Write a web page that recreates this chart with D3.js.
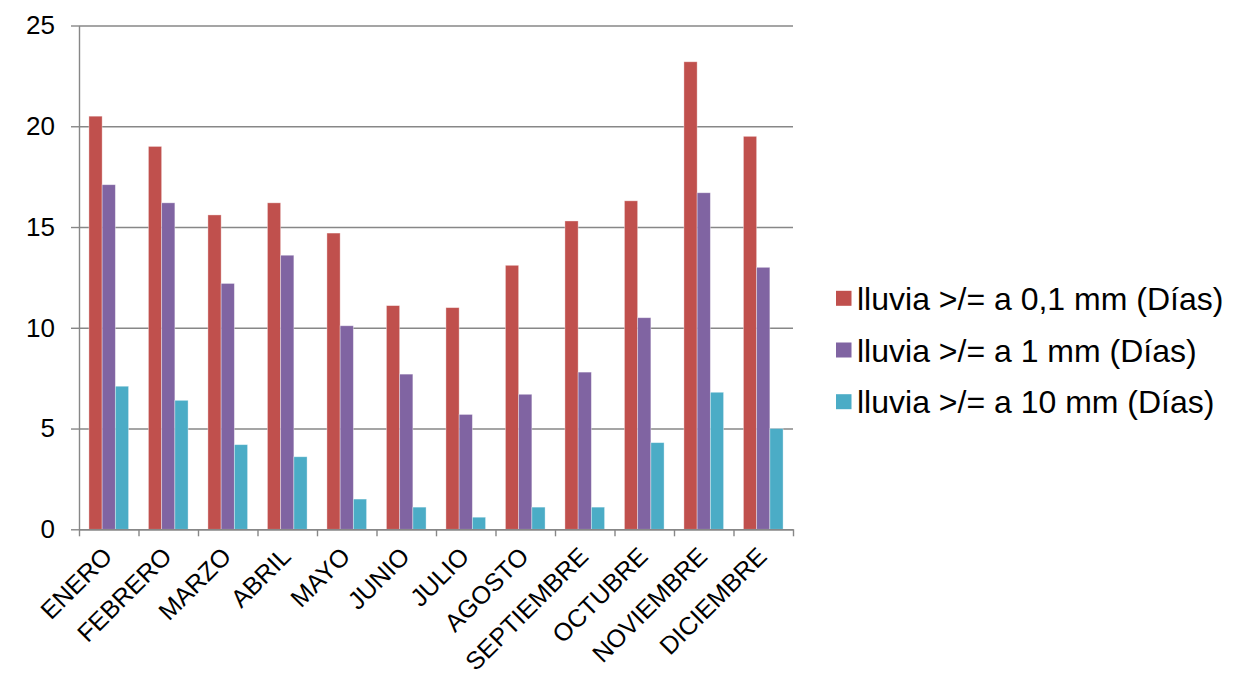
<!DOCTYPE html>
<html>
<head>
<meta charset="utf-8">
<script src="https://cdn.jsdelivr.net/npm/d3@7"></script>
<style>
  html, body { margin: 0; padding: 0; background: #fff; }
  svg { display: block; font-family: "Liberation Sans", Arial, sans-serif; }
</style>
</head>
<body>
<svg id="chart" width="1255" height="680"></svg>
<script>
// Monthly rain days by threshold
const months = ["ENERO", "FEBRERO", "MARZO", "ABRIL", "MAYO", "JUNIO", "JULIO",
                "AGOSTO", "SEPTIEMBRE", "OCTUBRE", "NOVIEMBRE", "DICIEMBRE"];
const seriesNames = ["lluvia >/= a 0,1 mm (Días)", "lluvia >/= a 1 mm (Días)", "lluvia >/= a 10 mm (Días)"];
const rain01 = [20.5, 19.0, 15.6, 16.2, 14.7, 11.1, 11.0, 13.1, 15.3, 16.3, 23.2, 19.5];
const rain1  = [17.1, 16.2, 12.2, 13.6, 10.1, 7.7, 5.7, 6.7, 7.8, 10.5, 16.7, 13.0];
const rain10 = [7.1, 6.4, 4.2, 3.6, 1.5, 1.1, 0.6, 1.1, 1.1, 4.3, 6.8, 5.0];
const yTicks = [0, 5, 10, 15, 20, 25];
const colors = ["#C0504D", "#8064A2", "#4BACC6"];

const seriesValues = [rain01, rain1, rain10];
const rows = months.map((m, i) => ({ month: m, values: seriesValues.map(s => s[i]) }));

const svg = d3.select("#chart");
const plotLeft = 79, plotRight = 793, plotTop = 25.5, plotBottom = 529.3;
const gridColor = "#878787";

const x = d3.scaleBand().domain(months).range([plotLeft, plotRight])
  .paddingInner(1 / 3).paddingOuter(1 / 6);
const xs = d3.scaleBand().domain(d3.range(seriesNames.length)).range([0, x.bandwidth()]);
const xEdges = d3.scaleLinear().domain([0, months.length]).range([plotLeft, plotRight]);
const y = d3.scaleLinear().domain([0, 25]).range([plotBottom, plotTop]);

// horizontal gridlines
svg.append("g")
  .attr("transform", `translate(${plotLeft},0)`)
  .call(d3.axisLeft(y).tickValues(yTicks).tickSize(-(plotRight - plotLeft)).tickFormat(""))
  .call(g => g.select(".domain").remove())
  .call(g => g.selectAll(".tick line").attr("stroke", gridColor).attr("stroke-width", 1.4));

// bars
const groups = svg.append("g").selectAll("g").data(rows).join("g")
  .attr("transform", d => `translate(${x(d.month)},0)`);
groups.selectAll("rect").data(d => d.values.map((v, k) => ({ v, k }))).join("rect")
  .attr("x", d => xs(d.k))
  .attr("width", xs.bandwidth())
  .attr("y", d => y(d.v))
  .attr("height", d => y(0) - y(d.v))
  .attr("fill", d => colors[d.k])
  .attr("stroke", "rgba(255,255,255,0.45)")
  .attr("stroke-width", 0.8);

// y axis
svg.append("g")
  .attr("transform", `translate(${plotLeft},0)`)
  .call(d3.axisLeft(y).tickValues(yTicks).tickSize(8).tickPadding(16).tickSizeOuter(0))
  .call(g => g.select(".domain").attr("stroke", gridColor).attr("stroke-width", 1.4))
  .call(g => g.selectAll(".tick line").attr("stroke", gridColor).attr("stroke-width", 1.4))
  .call(g => g.selectAll(".tick text")
    .attr("fill", "#000").attr("font-size", 26)
    .attr("font-family", "'Liberation Sans', Arial, sans-serif"));

// x axis with boundary ticks
svg.append("g")
  .attr("transform", `translate(0,${plotBottom})`)
  .call(d3.axisBottom(xEdges).tickValues(d3.range(months.length + 1)).tickSize(7).tickSizeOuter(0).tickFormat(""))
  .call(g => g.select(".domain").attr("stroke", gridColor).attr("stroke-width", 1.4))
  .call(g => g.selectAll(".tick line").attr("stroke", gridColor).attr("stroke-width", 1.4));

// rotated month labels
svg.append("g").selectAll("text").data(months).join("text")
  .attr("transform", d => `translate(${x(d) + x.bandwidth() / 2 + 5},558) rotate(-45)`)
  .attr("text-anchor", "end")
  .attr("font-size", 25)
  .attr("fill", "#000")
  .text(d => d);

// legend
const legend = svg.append("g").attr("transform", "translate(836,298.3)");
const items = legend.selectAll("g").data(seriesNames).join("g")
  .attr("transform", (d, i) => `translate(0,${i * 51.7})`);
items.append("rect")
  .attr("x", 0).attr("y", -7.5).attr("width", 15.5).attr("height", 15)
  .attr("fill", (d, i) => colors[i]);
items.append("text")
  .attr("x", 21).attr("y", 11.5)
  .attr("font-size", 32)
  .attr("fill", "#000")
  .text(d => d);
</script>
</body>
</html>
